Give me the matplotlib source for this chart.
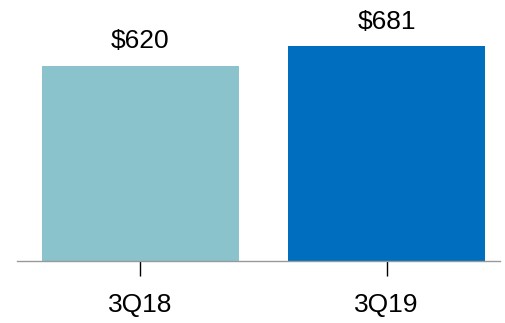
import matplotlib.pyplot as plt

plt.rcParams['font.family'] = ['Liberation Sans', 'DejaVu Sans']

quarters = ['3Q18', '3Q19']
values = [620, 681]
colors = ['#8BC3CD', '#006EBE']

fig = plt.figure(figsize=(5.06, 3.23), dpi=100)
ax = fig.add_axes([17 / 506, 1 - 261 / 323, 483 / 506, 261 / 323])

ax.bar(range(len(values)), values, width=0.8, color=colors)
for i, v in enumerate(values):
    ax.text(i, v + 40, '${}'.format(v), ha='center', va='bottom', fontsize=19)

ax.set_xlim(-0.5, 1.46)
ax.set_ylim(0, 828)
ax.set_xticks(range(len(values)))
ax.set_xticklabels(quarters, fontsize=19)
ax.tick_params(axis='x', length=11, width=1, color='black', pad=12)
ax.set_yticks([])
for s in ['top', 'left', 'right']:
    ax.spines[s].set_visible(False)
ax.spines['bottom'].set_color('#999999')
ax.spines['bottom'].set_linewidth(1)

fig.savefig('out.png', dpi=100)
